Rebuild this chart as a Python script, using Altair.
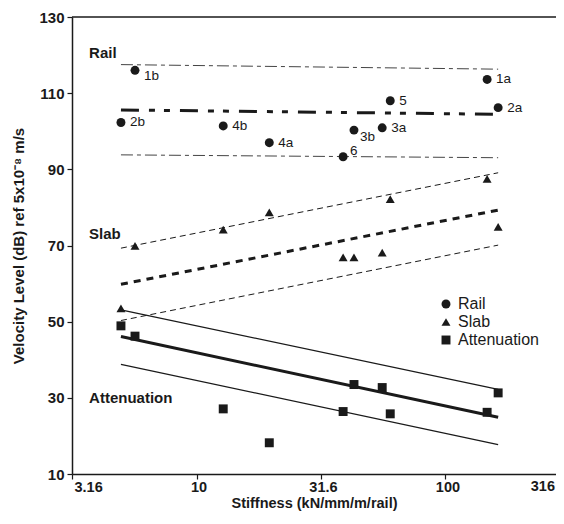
import altair as alt
import pandas as pd

# ---- data ----
sites = ["2b", "1b", "4b", "4a", "6", "3b", "3a", "5", "1a", "2a"]
stiffness = [4.97, 5.66, 12.8, 19.6, 38.8, 42.9, 55.7, 60.0, 147, 162.8]
rail = [102.3, 116.0, 101.4, 97.0, 93.3, 100.3, 100.9, 108.0, 113.6, 106.2]
slab = [53.5, 69.9, 74.2, 78.7, 66.9, 66.9, 68.1, 82.2, 87.5, 74.9]
atten = [48.9, 46.2, 27.1, 18.2, 26.4, 33.5, 32.7, 25.8, 26.2, 31.3]

fit_x = [4.97, 162.8]
rail_mean = [105.6, 104.45]
rail_upper = [117.5, 116.3]
rail_lower = [93.8, 93.05]
slab_mean = [59.8, 79.3]
slab_upper = [69.3, 89.1]
slab_lower = [50.3, 70.1]
att_mean = [46.1, 24.9]
att_upper = [53.1, 32.2]
att_lower = [38.8, 17.7]

series_names = ["Rail", "Slab", "Attenuation"]
group_names = ["Rail", "Slab", "Attenuation"]
group_x = [3.70, 3.70, 3.70]
group_y = [120.5, 73.0, 30.0]

x_ticks = [3.16, 10, 31.6, 100]
x_last_label = "316"
y_ticks = [10, 30, 50, 70, 90, 110, 130]

# ---- chart ----
INK = "#1a1a1a"
FONT = "Liberation Sans"
W, H = 484, 457

xs = alt.Scale(type="log", domain=[3.16, 278], nice=False)
ys = alt.Scale(domain=[10, 130], nice=False, zero=False)

xaxis = alt.Axis(values=x_ticks, format=".3~g", grid=False, titlePadding=3,
                 labelPadding=1, labelOffset=2, labelFontSize=14.5, titleFontSize=14.5)
yaxis = alt.Axis(values=y_ticks, grid=False, titlePadding=12)

XT = "Stiffness (kN/mm/m/rail)"
YT = "Velocity Level (dB) ref 5x10\u207b\u2078 m/s"


def X():
    return alt.X("x:Q", scale=xs, axis=xaxis, title=XT)


def Y():
    return alt.Y("y:Q", scale=ys, axis=yaxis, title=YT)


pts = pd.DataFrame({
    "x": stiffness * 3,
    "y": rail + slab + atten,
    "series": ["Rail"] * len(sites) + ["Slab"] * len(sites) + ["Attenuation"] * len(sites),
})

points = alt.Chart(pts).mark_point(filled=True, size=80, color=INK, opacity=1).encode(
    x=X(), y=Y(),
    shape=alt.Shape(
        "series:N",
        scale=alt.Scale(domain=series_names, range=["circle", "triangle-up", "square"]),
        legend=alt.Legend(
            orient="none", legendX=366, legendY=279, title=None,
            labelFont=FONT, labelFontSize=16, labelColor=INK,
            symbolFillColor=INK, symbolStrokeWidth=0, symbolSize=80,
            rowPadding=2, labelOffset=4, padding=0,
        ),
    ),
)


def fit_line(yvals, width, dash=None, color=INK):
    df = pd.DataFrame({"x": fit_x, "y": yvals})
    kw = dict(color=color, strokeWidth=width)
    if dash is not None:
        kw["strokeDash"] = dash
    return alt.Chart(df).mark_line(**kw).encode(x=X(), y=Y())


lines = [
    fit_line(rail_mean, 3, [18, 10, 6, 9, 6, 10]),
    fit_line(rail_upper, 1, [12, 4, 4, 4], "#444"),
    fit_line(rail_lower, 1, [12, 4, 4, 4], "#444"),
    fit_line(slab_mean, 3, [7, 6]),
    fit_line(slab_upper, 1, [6, 4]),
    fit_line(slab_lower, 1, [6, 4]),
    fit_line(att_mean, 3),
    fit_line(att_upper, 1.2),
    fit_line(att_lower, 1.2),
]

lab = pd.DataFrame({"x": stiffness, "y": rail, "site": sites})
below = ["1b", "3b"]
above = ["6"]
others = [s for s in sites if s not in below + above]


def site_labels(which, dx, dy):
    return alt.Chart(lab).transform_filter(
        alt.FieldOneOfPredicate(field="site", oneOf=which)
    ).mark_text(align="left", baseline="middle", dx=dx, dy=dy, font=FONT,
                fontSize=13.5, color=INK).encode(x=X(), y=Y(), text="site:N")


labels = [
    site_labels(others, 9, 0),
    site_labels(["1b"], 9, 6),
    site_labels(["3b"], 6, 7),
    site_labels(above, 7, -6),
]

grp = pd.DataFrame({"x": group_x, "y": group_y, "name": group_names})
group_text = alt.Chart(grp).mark_text(
    align="left", baseline="middle", font=FONT, fontSize=15, fontWeight="bold", color=INK
).encode(x=X(), y=Y(), text="name:N")

top = alt.Chart(pd.DataFrame({"y": [130]})).mark_rule(color=INK, strokeWidth=1.5).encode(
    y=Y(), x=alt.value(0), x2=alt.value(W)
)

# last tick label of the x axis (its tick lies just beyond the cropped right edge)
last_label = alt.Chart(pd.DataFrame({"t": [x_last_label]})).mark_text(
    align="right", baseline="top", font=FONT, fontSize=14.5, fontWeight="bold", color=INK
).encode(x=alt.value(W - 1), y=alt.value(H + 6), text="t:N")

chart = alt.layer(top, *lines, points, *labels, group_text, last_label).properties(
    width=W, height=H,
    padding={"left": 64, "top": 9, "right": 0, "bottom": 42},
    autosize=alt.AutoSizeParams(type="none"),
    background="white",
).configure_view(stroke=None).configure_axis(
    labelFont=FONT, labelFontSize=15, labelFontWeight="bold", labelColor=INK,
    titleFont=FONT, titleFontSize=15, titleFontWeight="bold", titleColor=INK,
    domainColor=INK, domainWidth=1.5, tickColor=INK, tickSize=5, tickWidth=1.2,
    labelPadding=3,
)

chart.save("out.html", embed_options={"renderer": "svg", "actions": False})
